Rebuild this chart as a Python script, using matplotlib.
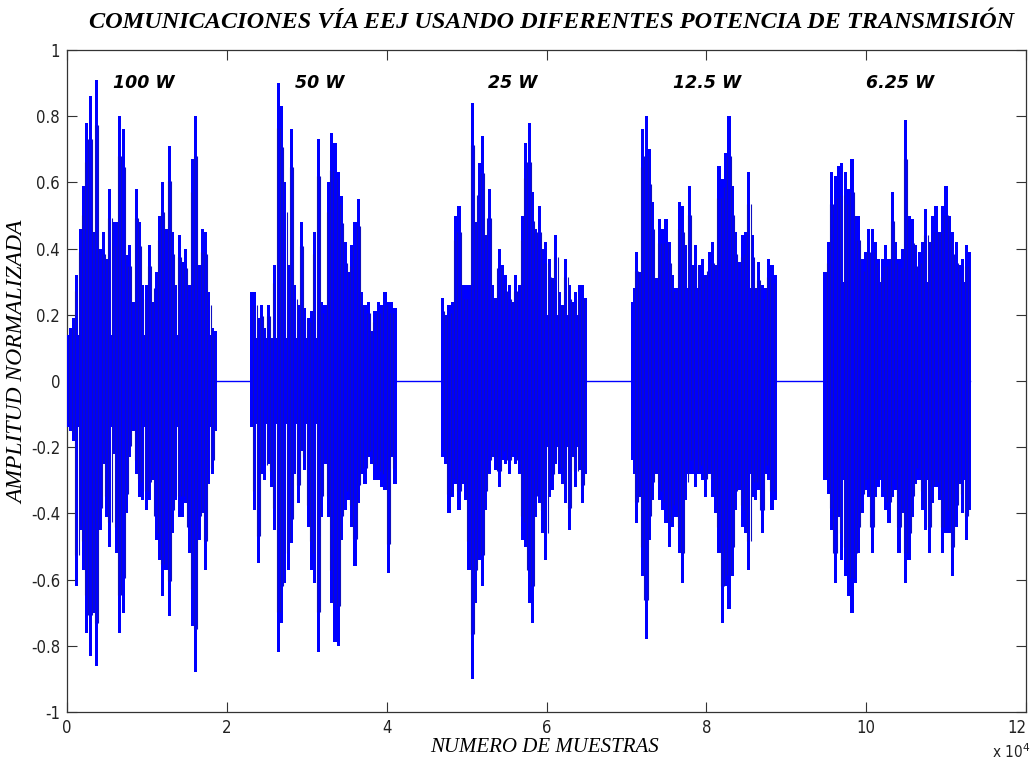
import numpy as np
import matplotlib
matplotlib.use("Agg")
import matplotlib.pyplot as plt
from matplotlib.ticker import FixedLocator, FixedFormatter

# ---------------- data ----------------
burst_labels = ["100 W", "50 W", "25 W", "12.5 W", "6.25 W"]
label_x = [9600, 31600, 55800, 80100, 104300]          # samples
label_y = 0.90
burst_start = [0, 23090, 46970, 70810, 94860]          # samples
burst_end = [18580, 41040, 64930, 88640, 112940]       # samples
core_amp = [0.14, 0.13, 0.20, 0.28, 0.30]               # solid core half-height

b1_hi = [0.12, 0.16, 0.19, 0.32, 0.46, 0.59, 0.78, 0.86, 0.45, 0.91, 0.40, 0.45, 0.37, 0.58, 0.48, 0.48,
         0.80, 0.76, 0.38, 0.41, 0.24, 0.58, 0.48, 0.29, 0.29, 0.41, 0.24, 0.33, 0.50, 0.60, 0.46, 0.71,
         0.45, 0.29, 0.44, 0.36, 0.40, 0.29, 0.67, 0.80, 0.35, 0.46, 0.45, 0.27, 0.16, 0.15]
b1_lo = [-0.12, -0.15, -0.18, -0.62, -0.45, -0.57, -0.76, -0.83, -0.70, -0.86, -0.45, -0.25, -0.41, -0.50,
         -0.22, -0.52, -0.76, -0.70, -0.40, -0.23, -0.15, -0.28, -0.35, -0.36, -0.39, -0.36, -0.30, -0.48,
         -0.54, -0.65, -0.57, -0.71, -0.46, -0.36, -0.41, -0.41, -0.37, -0.52, -0.74, -0.88, -0.48, -0.40,
         -0.57, -0.31, -0.28, -0.15]
b2_hi = [0.27, 0.27, 0.19, 0.23, 0.16, 0.23, 0.11, 0.35, 0.90, 0.83, 0.60, 0.35, 0.76, 0.29, 0.23, 0.48,
         0.22, 0.19, 0.21, 0.45, 0.73, 0.24, 0.23, 0.60, 0.75, 0.72, 0.63, 0.56, 0.42, 0.33, 0.41, 0.48,
         0.55, 0.27, 0.23, 0.24, 0.15, 0.21, 0.24, 0.23, 0.27, 0.24, 0.24, 0.22]
b2_lo = [-0.14, -0.39, -0.55, -0.28, -0.30, -0.25, -0.32, -0.45, -0.82, -0.73, -0.61, -0.57, -0.49, -0.28,
         -0.37, -0.21, -0.27, -0.44, -0.57, -0.61, -0.82, -0.41, -0.25, -0.41, -0.67, -0.79, -0.80, -0.48,
         -0.39, -0.36, -0.44, -0.56, -0.37, -0.28, -0.31, -0.23, -0.25, -0.30, -0.30, -0.32, -0.33, -0.58,
         -0.23, -0.31]
b3_hi = [0.25, 0.20, 0.23, 0.24, 0.50, 0.53, 0.29, 0.29, 0.29, 0.84, 0.48, 0.66, 0.74, 0.44, 0.58, 0.29,
         0.25, 0.40, 0.35, 0.32, 0.29, 0.24, 0.32, 0.29, 0.50, 0.72, 0.78, 0.57, 0.46, 0.53, 0.40, 0.42,
         0.37, 0.31, 0.44, 0.27, 0.23, 0.37, 0.29, 0.24, 0.27, 0.29, 0.29, 0.25]
b3_lo = [-0.23, -0.25, -0.40, -0.35, -0.31, -0.39, -0.31, -0.36, -0.57, -0.90, -0.67, -0.54, -0.62, -0.39,
         -0.28, -0.23, -0.27, -0.32, -0.24, -0.25, -0.28, -0.23, -0.25, -0.28, -0.48, -0.50, -0.67, -0.73,
         -0.41, -0.37, -0.46, -0.54, -0.35, -0.33, -0.25, -0.28, -0.31, -0.37, -0.45, -0.23, -0.32, -0.27,
         -0.37, -0.28]
b4_hi = [0.24, 0.39, 0.33, 0.76, 0.80, 0.70, 0.54, 0.31, 0.49, 0.46, 0.49, 0.42, 0.32, 0.25, 0.54, 0.53,
         0.41, 0.59, 0.35, 0.41, 0.35, 0.37, 0.32, 0.39, 0.42, 0.35, 0.65, 0.61, 0.69, 0.80, 0.59, 0.45,
         0.36, 0.44, 0.45, 0.63, 0.44, 0.24, 0.36, 0.29, 0.25, 0.37, 0.35, 0.32]
b4_lo = [-0.24, -0.43, -0.35, -0.59, -0.78, -0.48, -0.36, -0.28, -0.36, -0.39, -0.43, -0.50, -0.44, -0.41,
         -0.52, -0.61, -0.36, -0.28, -0.25, -0.32, -0.28, -0.30, -0.35, -0.28, -0.35, -0.40, -0.52, -0.73,
         -0.62, -0.69, -0.59, -0.39, -0.33, -0.44, -0.46, -0.57, -0.35, -0.36, -0.33, -0.46, -0.28, -0.30,
         -0.39, -0.36]
b5_hi = [0.33, 0.42, 0.63, 0.62, 0.65, 0.66, 0.63, 0.58, 0.67, 0.50, 0.50, 0.37, 0.39, 0.46, 0.46, 0.42,
         0.37, 0.37, 0.41, 0.37, 0.57, 0.42, 0.37, 0.40, 0.79, 0.50, 0.49, 0.41, 0.39, 0.42, 0.52, 0.42,
         0.50, 0.53, 0.45, 0.53, 0.59, 0.50, 0.45, 0.42, 0.35, 0.37, 0.41, 0.39]
b5_lo = [-0.30, -0.34, -0.45, -0.61, -0.41, -0.54, -0.59, -0.65, -0.70, -0.61, -0.52, -0.40, -0.33, -0.35,
         -0.52, -0.35, -0.32, -0.35, -0.39, -0.43, -0.35, -0.33, -0.52, -0.40, -0.61, -0.54, -0.41, -0.31,
         -0.28, -0.39, -0.45, -0.52, -0.37, -0.32, -0.36, -0.52, -0.46, -0.46, -0.59, -0.44, -0.31, -0.40,
         -0.48, -0.39]

x_ticks = [0, 20000, 40000, 60000, 80000, 100000, 120000]
x_ticklabels = ["0", "2", "4", "6", "8", "10", "12"]
y_ticks = [-1, -0.8, -0.6, -0.4, -0.2, 0, 0.2, 0.4, 0.6, 0.8, 1]
y_ticklabels = ["-1", "-0.8", "-0.6", "-0.4", "-0.2", "0", "0.2", "0.4", "0.6", "0.8", "1"]

title = "COMUNICACIONES VÍA EEJ USANDO DIFERENTES POTENCIA DE TRANSMISIÓN"
xlabel = "NUMERO DE MUESTRAS"
ylabel = "AMPLITUD NORMALIZADA"

# ---------------- drawing ----------------
BLUE = "#0000ff"
his = [b1_hi, b2_hi, b3_hi, b4_hi, b5_hi]
los = [b1_lo, b2_lo, b3_lo, b4_lo, b5_lo]

fig = plt.figure(figsize=(10.33, 7.62), dpi=100)
ax = fig.add_axes([67 / 1033, 1 - 712 / 762, (1026 - 67) / 1033, (712 - 50) / 762])

# flat zero signal between bursts
ax.plot([burst_start[0], burst_end[-1]], [0, 0], color=BLUE, lw=1.0, zorder=2)

for s, e, hi, lo, c in zip(burst_start, burst_end, his, los, core_amp):
    n = len(hi)
    x = np.linspace(s, e, n)
    w = (e - s) / (n - 1)
    ax.fill_between([s, e], [-c, -c], [c, c], color=BLUE, lw=0, zorder=3)
    ax.bar(x, hi, width=w * 0.95, color=BLUE, edgecolor="none", zorder=3)
    ax.bar(x, lo, width=w * 0.95, color=BLUE, edgecolor="none", zorder=3)
    ax.vlines(x[:-1] + w * 0.5, np.minimum(lo[:-1], lo[1:]) * 0.85,
              np.maximum(hi[:-1], hi[1:]) * 0.85, color="#1010c0", lw=0.8, zorder=3)

for lx, lab in zip(label_x, burst_labels):
    ax.text(lx, label_y, lab, ha="center", va="center", fontsize=12.5,
            fontweight="heavy", fontstyle="italic", family="DejaVu Sans", color="black")

ax.set_xlim(0, 120000)
ax.set_ylim(-1, 1)
ax.xaxis.set_major_locator(FixedLocator(x_ticks))
ax.xaxis.set_major_formatter(FixedFormatter(x_ticklabels))
ax.yaxis.set_major_locator(FixedLocator(y_ticks))
ax.yaxis.set_major_formatter(FixedFormatter(y_ticklabels))

ax.tick_params(direction="in", length=7, width=0.8, color="#333333",
               top=True, right=True, labelsize=12, pad=5, labelcolor="#222222")
for lbl in ax.get_xticklabels() + ax.get_yticklabels():
    lbl.set_family("DejaVu Sans")
    lbl.set_stretch("condensed")
    lbl.set_fontweight("light")
ax.get_xticklabels()[-1].set_horizontalalignment("right")
for sp in ax.spines.values():
    sp.set_linewidth(0.9)
    sp.set_color("#333333")

serif = ["Liberation Serif", "DejaVu Serif"]
fig.text(552 / 1033, 1 - 22 / 762, title, ha="center", va="center", fontsize=17.5,
         fontweight="bold", fontstyle="italic", family=serif)
fig.text(545 / 1033, 1 - 748 / 762, xlabel, ha="center", va="center", fontsize=15,
         fontstyle="italic", family=serif)
fig.text(18 / 1033, 1 - 362 / 762, ylabel, ha="center", va="center", fontsize=17,
         fontstyle="italic", family=serif, rotation=90)
fig.text(992 / 1033, 1 - 752 / 762, r"x 10$^4$", ha="left", va="center", fontsize=11,
         family="DejaVu Sans", stretch="condensed", color="#222222")

fig.savefig("out.png", dpi=100, facecolor="white")
